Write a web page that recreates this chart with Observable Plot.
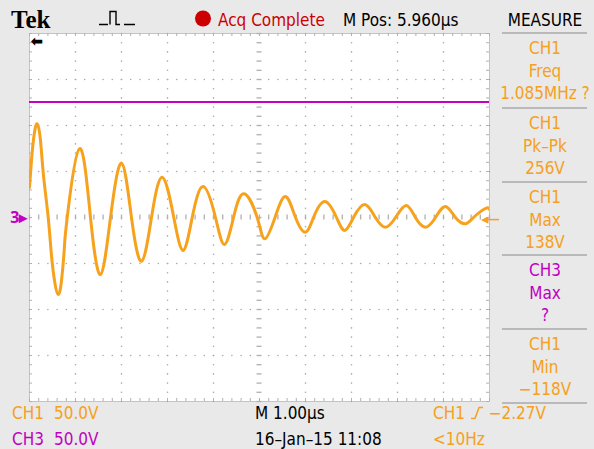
<!DOCTYPE html>
<html>
<head>
<meta charset="utf-8">
<script src="https://cdn.jsdelivr.net/npm/d3@7"></script>
<script src="https://cdn.jsdelivr.net/npm/@observablehq/plot@0.6"></script>
<style>
  html, body { margin: 0; padding: 0; background: #e9e9e9; }
  #scope { position: relative; width: 594px; height: 449px; background: #e9e9e9; overflow: hidden;
           font-family: "Liberation Sans Narrow", "DejaVu Sans Condensed", Roboto, sans-serif; font-size: 17px; }
  #scope svg.plotsvg { position: absolute; left: 0; top: 0; }
  .t { position: absolute; white-space: nowrap; transform: translateY(-50%); line-height: 1; }
  .c { transform: translate(-50%, -50%); text-align: center; }
  .hr { position: absolute; height: 2px; background: #b9b9b9; left: 502px; width: 85px; }
  .or { color: #f5a020; }
  .mg { color: #c000c0; }
</style>
</head>
<body>
<div id="scope"></div>
<script>
// ---- data (time in µs at 1.00 µs/div, CH1 in volts at 50 V/div) ----
const timeUs = [0, 0.043, 0.098, 0.167, 0.239, 0.304, 0.407, 0.478, 0.554, 0.624, 0.696, 0.761, 0.820, 1.087, 1.326, 1.543, 1.761, 2.0, 2.217, 2.435, 2.652, 2.885, 3.137, 3.341, 3.537, 3.776, 4.043, 4.239, 4.435, 4.659, 4.95, 5.115, 5.337, 5.565, 5.783, 6.0, 6.174, 6.42, 6.674, 6.854, 7.043, 7.289, 7.52, 7.739, 7.957, 8.189, 8.39, 8.609, 8.826, 9.043, 9.26, 9.478, 9.652, 9.913, 10];
const ch1Volts = [32.6, 62.0, 89.1, 101.8, 83.7, 45.7, 0, -41.3, -71.7, -83.7, -68.5, -30.4, 0, 74.7, 0, -62.0, 0, 59.0, 0, -47.5, 0, 43.8, 0, -35.9, 0, 33.7, 0, -29.3, 0, 25.8, 0, -23.2, 0, 22.8, 0, -16.0, 0, 17.4, 0, -14.1, 0, 14.1, 0, -10.5, 0, 13.0, 0, -10.5, 0, 12.0, 0, -6.8, 0, 9.8, 8.7];
const ch3LevelV = 125.5;
const triggerLevelV = -2.27;
const timeDomain = [0, 10];
const voltDomain = [-200, 200];
const majorTimeTicks = [1, 2, 3, 4, 6, 7, 8, 9];
const majorVoltTicks = [-150, -100, -50, 50, 100, 150];
const centerTime = 5;
const centerVolt = 0;

const measureRows = [
  ["CH1", "Freq", "1.085MHz ?", "or"],
  ["CH1", "Pk\u2013Pk", "256V", "or"],
  ["CH1", "Max", "138V", "or"],
  ["CH3", "Max", "?", "mg"],
  ["CH1", "Min", "\u2212118V", "or"]
];

const ORANGE = "#f7a21c";
const MAGENTA = "#c400c4";
const GRID = "#a8a8a8";

const trace = timeUs.map((t, i) => ({t, v: ch1Volts[i]}));
const minorT = d3.range(0, 10.0001, 0.2);
const minorV = d3.range(-200, 200.0001, 10);
const pxT = 10 / 460, pxV = 400 / 368; // data units per pixel

const gridDots = [];
for (const mt of majorTimeTicks) for (const v of minorV) gridDots.push({t: mt, v});
for (const mv of majorVoltTicks) for (const t of minorT) gridDots.push({t, v: mv});

const chart = Plot.plot({
  width: 594, height: 449,
  marginLeft: 29, marginRight: 105, marginTop: 33, marginBottom: 48,
  x: {domain: timeDomain, axis: null},
  y: {domain: voltDomain, axis: null},
  style: {background: "transparent", overflow: "visible"},
  marks: [
    Plot.frame({fill: "white", stroke: "#c4c4c4"}),
    Plot.dot(gridDots, {x: "t", y: "v", r: 0.8, fill: GRID, stroke: null}),
    // center crosshair dashes
    Plot.ruleX(minorT, {x: d => d, y1: centerVolt - 2.5 * pxV, y2: centerVolt + 2.5 * pxV, stroke: "#b0b0b0", strokeWidth: 1.3}),
    Plot.ruleY(minorV, {y: d => d, x1: centerTime - 2.5 * pxT, x2: centerTime + 2.5 * pxT, stroke: "#b0b0b0", strokeWidth: 1.3}),
    // edge ticks
    Plot.ruleX(minorT, {x: d => d, y1: 200, y2: 200 - 3 * pxV, stroke: "#b0b0b0"}),
    Plot.ruleX(minorT, {x: d => d, y1: -200, y2: -200 + 3 * pxV, stroke: "#b0b0b0"}),
    Plot.ruleY(minorV, {y: d => d, x1: 0, x2: 3 * pxT, stroke: "#b0b0b0"}),
    Plot.ruleY(minorV, {y: d => d, x1: 10, x2: 10 - 3 * pxT, stroke: "#b0b0b0"}),
    // CH3 trace
    Plot.ruleY([ch3LevelV], {stroke: MAGENTA, strokeWidth: 2}),
    // CH1 trace
    Plot.line(trace, {x: "t", y: "v", stroke: ORANGE, strokeWidth: 3, curve: "natural", clip: true}),
    // markers
    Plot.text(["3\u25B8"], {x: 0, y: centerVolt, text: d => d, textAnchor: "end", dx: -2, fill: MAGENTA, fontSize: 16, fontWeight: "bold"}),
    Plot.text(["\u25C2"], {x: 10, y: triggerLevelV, text: d => d, textAnchor: "end", dx: -1, fill: ORANGE, fontSize: 15}),
    Plot.ruleY([triggerLevelV], {x1: 10 - 4 * pxT, x2: 10 + 10 * pxT, stroke: ORANGE, strokeWidth: 1.5}),
    Plot.text(["\u2B05"], {x: 0, y: 200, text: d => d, textAnchor: "start", dx: 1, dy: 8, fill: "black", fontSize: 14, fontWeight: "bold"})
  ]
});
chart.classList.add("plotsvg");

const scope = document.getElementById("scope");
scope.appendChild(chart);

function addText(html, x, y, cls = "", extra = {}) {
  const d = document.createElement("div");
  d.className = "t " + cls;
  d.style.left = x + "px"; d.style.top = y + "px";
  Object.assign(d.style, extra);
  d.innerHTML = html;
  scope.appendChild(d);
  return d;
}

// header
addText("Tek", 11, 19, "", {fontFamily: "'Liberation Serif', 'DejaVu Serif', serif", fontWeight: "bold", fontSize: "25px"});
addText('<svg width="40" height="20"><path d="M1 17 H10 M12 17 V4 H18 V17 H22 M26 17 H37" stroke="#000" fill="none" stroke-width="1.4"/></svg>', 98, 19);
addText('<svg width="18" height="18"><circle cx="9" cy="9" r="8" fill="#cc0000"/></svg>', 194, 20);
addText("Acq Complete", 218, 20, "", {color: "#cc0000"});
addText("M Pos: 5.960\u00B5s", 343, 20, "", {color: "#000"});
addText("MEASURE", 545, 20, "c", {color: "#000"});

// measure panel
const lines = [33, 108, 182, 255, 329, 403];
for (const y of lines) { const h = document.createElement("div"); h.className = "hr"; h.style.top = (y - 1) + "px"; scope.appendChild(h); }
measureRows.forEach((r, i) => {
  const y0 = lines[i];
  addText(r[0], 545, y0 + 15, "c " + r[3]);
  addText(r[1], 545, y0 + 38, "c " + r[3]);
  addText(r[2], 545, y0 + 60, "c " + r[3]);
});

// footer
addText("CH1", 12, 413, "or");
addText("50.0V", 54, 413, "or");
addText("CH3", 12, 439, "mg");
addText("50.0V", 54, 439, "mg");
addText("M 1.00\u00B5s", 255, 413, "", {color: "#000"});
addText("16\u2013Jan\u201315 11:08", 255, 439, "", {color: "#000"});
addText('CH1 <svg width="14" height="14" style="vertical-align:-1px"><path d="M1 13 H5 L9 2 H13" stroke="#f5a020" fill="none" stroke-width="1.5"/></svg> \u22122.27V', 433, 413, "or");
addText("&lt;10Hz", 433, 439, "or");
</script>
</body>
</html>
